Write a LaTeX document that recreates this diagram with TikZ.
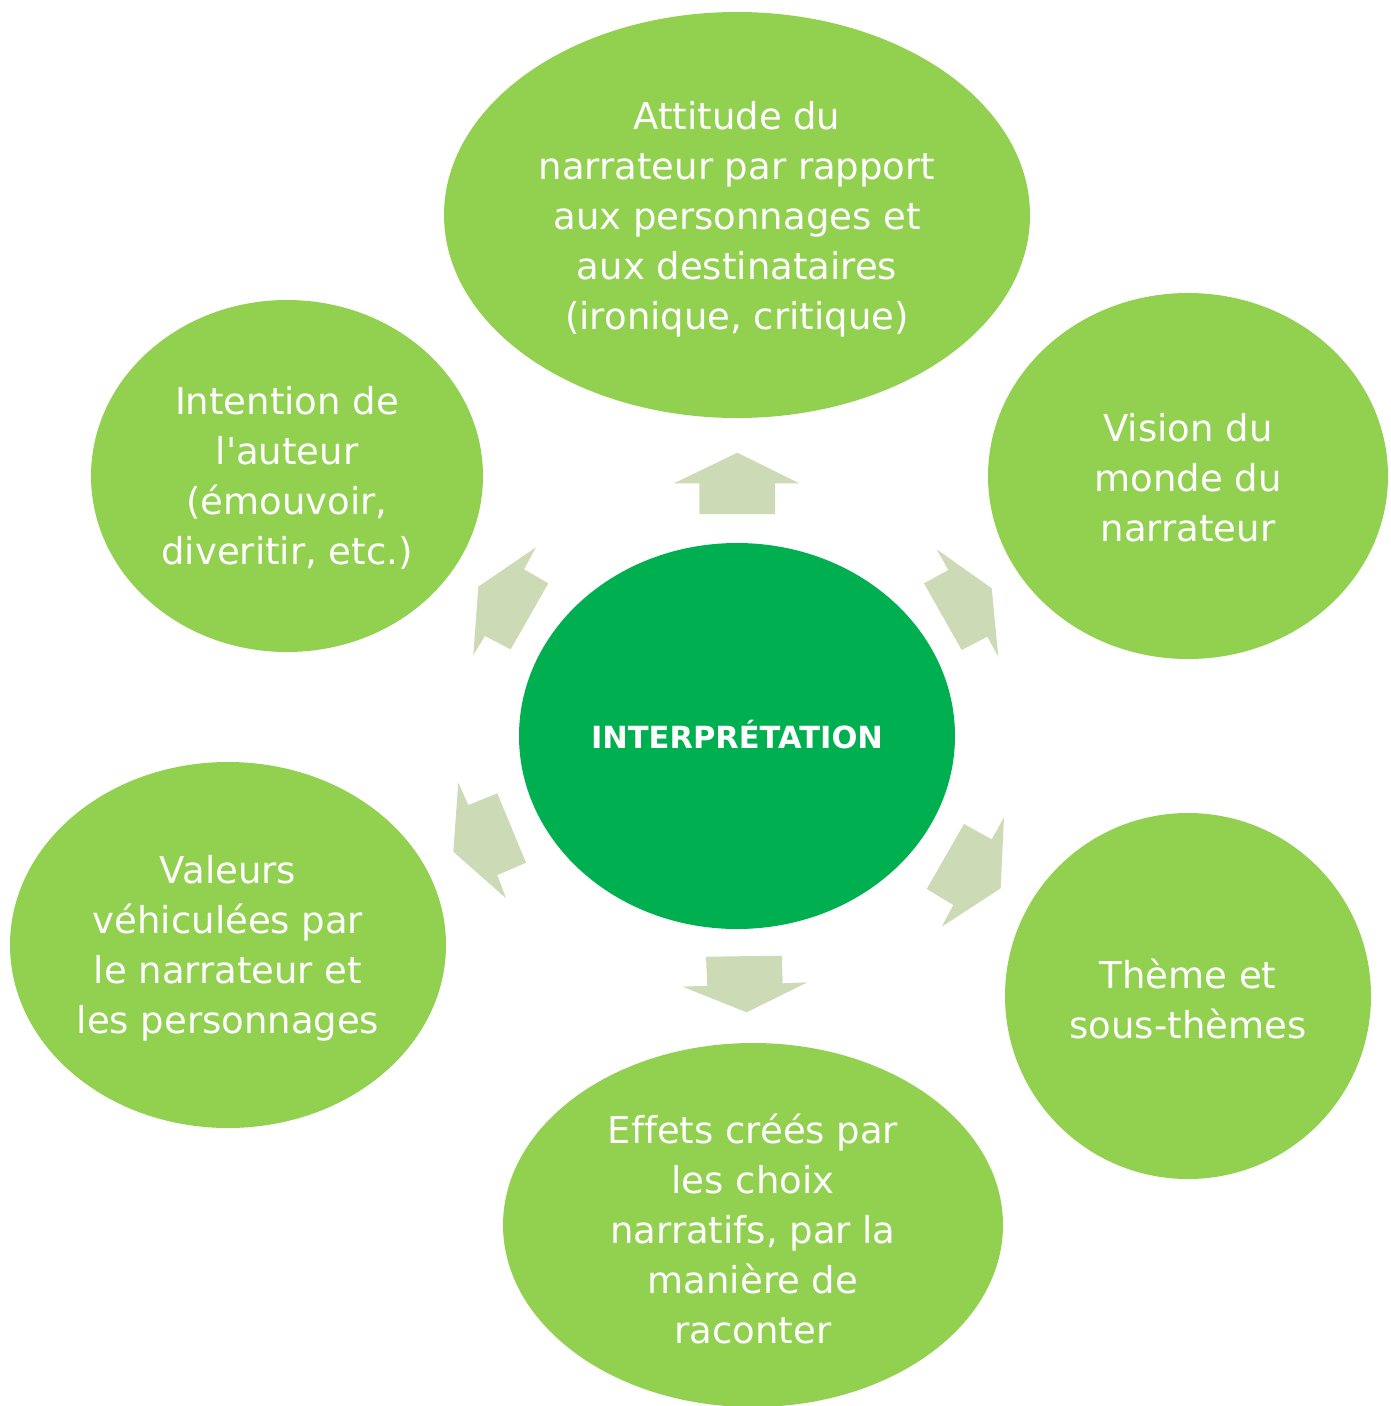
\documentclass[tikz,border=0pt]{standalone}
\usepackage{fontspec}
\setmainfont{DejaVu Sans}[Ligatures=NoCommon]
\usetikzlibrary{shapes.geometric}
\definecolor{lg}{HTML}{92D050}
\definecolor{dg}{HTML}{00B050}
\definecolor{ar}{HTML}{CCDAB6}
\tikzset{
  bub/.style={ellipse, fill=lg, draw=none, inner sep=0pt},
  core/.style={ellipse, fill=dg, draw=none, inner sep=0pt},
  txt/.style={text=white, align=center, inner sep=0pt, font=\fontsize{37}{50}\selectfont},
  blk/.style={fill=ar, draw=none}
}
\begin{document}
\begin{tikzpicture}[x=1pt,y=-1pt]
\useasboundingbox (0,0) rectangle (1391,1406);
% bubbles
\node[bub, minimum width=586pt, minimum height=406pt] (top) at (737,215) {};
\node[bub, minimum width=392pt, minimum height=352pt] (tl) at (287,476) {};
\node[bub, minimum width=400pt, minimum height=366pt] (tr) at (1188,476) {};
\node[core, minimum width=436pt, minimum height=386pt] (c) at (737,736) {};
\node[bub, minimum width=436pt, minimum height=366pt] (bl) at (228,945) {};
\node[bub, minimum width=366pt, minimum height=366pt] (br) at (1188,996) {};
\node[bub, minimum width=500pt, minimum height=364pt] (bot) at (753,1225) {};
% texts
\node[txt] (ttop) at ([yshift=-4pt]top.center) {Attitude du\\narrateur par rapport\\aux personnages et\\aux destinataires\\(ironique, critique)};
\node[txt] (ttl) at ([yshift=-2pt]tl.center) {Intention de\\l\textquotesingle auteur\\(émouvoir,\\diveritir, etc.)};
\node[txt] (ttr) at ([yshift=-2pt]tr.center) {Vision du\\monde du\\narrateur};
\node[text=white, inner sep=0pt, font=\fontsize{30.5}{36}\selectfont\bfseries] (tc) at (737,735) {INTERPRÉTATION};
\node[txt] (tbl) at ([yshift=-3pt]bl.center) {Valeurs\\véhiculées par\\le narrateur et\\les personnages};
\node[txt] (tbr) at ([yshift=-3pt]br.center) {Thème et\\sous-thèmes};
\node[txt] (tbot) at ([yshift=-4pt]bot.center) {Effets créés par\\les choix\\narratifs, par la\\manière de\\raconter};
% block arrows
\fill[blk] (737.3,452.7) -- (799.3,483.3) -- (775,483.3) -- (775,514) -- (699.3,514) -- (699.3,483.3) -- (674,483.3) -- cycle;
\fill[blk] (536,547.3) -- (524,569.3) -- (548.3,583.3) -- (510.7,649.3) -- (485,636) -- (473.3,655) -- (478.3,586.7) -- cycle;
\fill[blk] (936.7,549.3) -- (991.7,588.3) -- (998.3,656.7) -- (987.3,636.7) -- (961.7,650) -- (924,583.3) -- (948.3,570) -- cycle;
\fill[blk] (458.3,782.7) -- (468.3,805) -- (497.3,793.3) -- (526,862.7) -- (497.3,875) -- (506,898.3) -- (453.3,851.7) -- cycle;
\fill[blk] (964,824) -- (991.7,839.3) -- (1004,817.3) -- (1000.7,888.3) -- (941.7,926.7) -- (953.3,905) -- (926.7,889) -- cycle;
\fill[blk] (706,956.7) -- (781.7,955.7) -- (782.7,983.3) -- (807.3,982.3) -- (746.7,1012.3) -- (682.7,986.7) -- (707.3,985.7) -- cycle;
\end{tikzpicture}
\end{document}
